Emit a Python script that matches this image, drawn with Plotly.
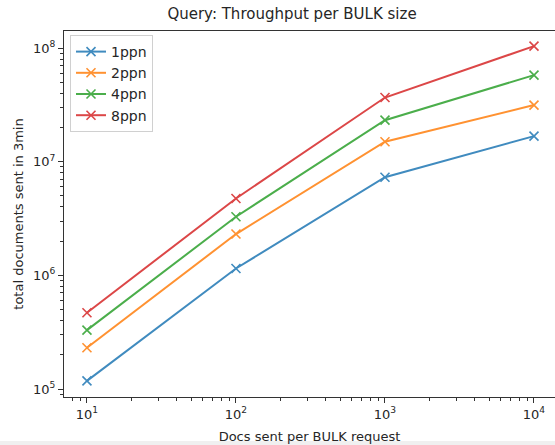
import plotly.graph_objects as go

bulk_sizes = [10, 100, 1000, 10000]
series_names = ["1ppn", "2ppn", "4ppn", "8ppn"]
docs_1ppn = [1.18e5, 1.15e6, 7.3e6, 1.68e7]
docs_2ppn = [2.31e5, 2.31e6, 1.50e7, 3.15e7]
docs_4ppn = [3.30e5, 3.28e6, 2.32e7, 5.78e7]
docs_8ppn = [4.69e5, 4.75e6, 3.67e7, 1.04e8]
series_values = [docs_1ppn, docs_2ppn, docs_4ppn, docs_8ppn]
colors = ["#1f77b4", "#ff7f0e", "#2ca02c", "#d62728"]

x_major = [10, 100, 1000, 10000]
x_major_text = ["10<sup>1</sup>", "10<sup>2</sup>", "10<sup>3</sup>", "10<sup>4</sup>"]
y_major = [1e5, 1e6, 1e7, 1e8]
y_major_text = ["10<sup>5</sup>", "10<sup>6</sup>", "10<sup>7</sup>", "10<sup>8</sup>"]

x_minor = [m * 10 ** k for k in range(0, 5) for m in range(2, 10)]
y_minor = [m * 10 ** k for k in range(4, 9) for m in range(2, 10)]

fig = go.Figure()
for name, vals, c in zip(series_names, series_values, colors):
    fig.add_trace(go.Scatter(
        x=bulk_sizes, y=vals, name=name, mode="lines+markers",
        line=dict(color=c, width=2),
        marker=dict(symbol="x-thin", size=9, color=c, line=dict(color=c, width=1.6)),
        opacity=0.85,
    ))

font = "DejaVu Sans"
fig.update_layout(
    width=555, height=445,
    margin=dict(l=64, r=0, t=31, b=48),
    paper_bgcolor="white", plot_bgcolor="white",
    font=dict(family=font, size=13, color="#262626"),
    title=dict(text="Query: Throughput per BULK size", x=292 / 555, xanchor="center",
               xref="container", y=1 - 14 / 445, yanchor="middle",
               font=dict(family=font, size=15, color="#262626")),
    showlegend=True,
    legend=dict(x=6 / 491, y=1 - 4 / 366, xanchor="left", yanchor="top",
                bgcolor="rgba(255,255,255,0.8)", bordercolor="#d0d0d0", borderwidth=1,
                font=dict(family=font, size=14, color="#262626"),
                tracegroupgap=0, itemwidth=30),
    shapes=[dict(type="rect", xref="paper", yref="paper", x0=-64 / 491, x1=1,
                 y0=-44 / 366, y1=-50 / 366, fillcolor="#f0f0f0", line=dict(width=0),
                 layer="below")],
)
fig.update_xaxes(
    type="log", range=[0.846, 4.141],
    tickmode="array", tickvals=x_major, ticktext=x_major_text,
    ticks="outside", ticklen=5, tickwidth=1, tickcolor="#333",
    minor=dict(tickvals=x_minor, ticks="outside", ticklen=3, tickwidth=0.8, tickcolor="#333", showgrid=False),
    showgrid=False, zeroline=False,
    showline=True, linecolor="#333", linewidth=1, mirror=True,
    title=dict(text="Docs sent per BULK request", standoff=11, font=dict(family=font, size=13)),
    tickfont=dict(family=font, size=13, color="#262626"),
)
fig.update_yaxes(
    type="log", range=[4.93, 8.15],
    tickmode="array", tickvals=y_major, ticktext=y_major_text,
    ticks="outside", ticklen=5, tickwidth=1, tickcolor="#333",
    minor=dict(tickvals=y_minor, ticks="outside", ticklen=3, tickwidth=0.8, tickcolor="#333", showgrid=False),
    showgrid=False, zeroline=False,
    showline=True, linecolor="#333", linewidth=1, mirror=False,
    title=dict(text="total documents sent in 3min", standoff=6, font=dict(family=font, size=13)),
    tickfont=dict(family=font, size=13, color="#262626"),
)

fig.write_html("out.html")
